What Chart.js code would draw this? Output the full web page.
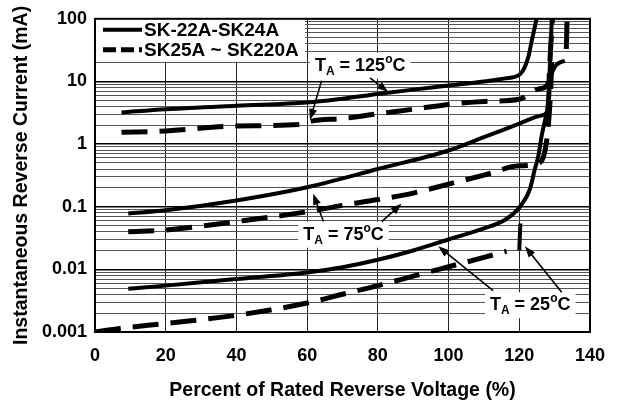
<!DOCTYPE html>
<html>
<head>
<meta charset="utf-8">
<script src="https://cdn.jsdelivr.net/npm/chart.js@4.4.1/dist/chart.umd.min.js"></script>
<style>
  html, body { margin: 0; padding: 0; background: #fff; }
  #wrap { width: 620px; height: 405px; }
</style>
</head>
<body>
<div id="wrap"><canvas id="chart"></canvas></div>
<script>
/* Reverse current vs. percent of rated reverse voltage (log scale) */

const FONT = '"Liberation Sans", Arial, sans-serif';

// ── Data ──────────────────────────────────────────────────────
// TA = 125°C
const s125X = [7.5, 20, 40, 60, 70, 80, 90, 100, 110, 116, 120.2, 122.5, 123.5, 124.9];
const s125Y = [3.2, 3.6, 4.1, 4.6, 5.3, 6.3, 7.4, 8.6, 10, 11.2, 13.0, 24, 44, 100];
const d125X = [7.5, 20, 40, 59, 61, 70, 80, 90, 100, 110, 120, 125.5, 128.3, 128.8, 129.4];
const d125Y = [1.54, 1.62, 1.95, 2.08, 2.3, 2.55, 3.05, 3.6, 4.3, 4.8, 5.2, 7.6, 9.5, 30, 100];

// TA = 75°C
const s75X = [9.4, 20, 40, 60, 80, 100, 110, 120, 126, 127.8, 128.4, 128.7, 132.9];
const s75Y = [0.078, 0.088, 0.126, 0.205, 0.40, 0.79, 1.29, 2.12, 2.85, 3.2, 5, 11, 21.4];
const d75X = [9.4, 20, 40, 60, 70, 80, 90, 100, 110, 120, 125.6, 127.8, 128.8, 129.3];
const d75Y = [0.040, 0.0425, 0.058, 0.083, 0.105, 0.13, 0.165, 0.23, 0.32, 0.45, 0.5, 1.2, 6, 30];
const d75TailX = [133.3, 133.5];
const d75TailY = [33, 90];

// TA = 25°C
const s25X = [9.4, 20, 40, 60, 70, 80, 90, 100, 110, 116, 120.2, 123, 124.4, 125.4, 126.3, 127.3, 128, 128.6, 129.2];
const s25Y = [0.0049, 0.0055, 0.0070, 0.0089, 0.0108, 0.0142, 0.020, 0.030, 0.045, 0.062, 0.10, 0.19, 0.40, 0.65, 1.33, 2.43, 4, 15, 100];
const d25X = [0, 7, 20, 40, 60, 70, 80, 90, 100, 110, 116.4];
const d25Y = [0.001, 0.00114, 0.00137, 0.00185, 0.0029, 0.0040, 0.0055, 0.0078, 0.0110, 0.0155, 0.0195];
const d25TailX = [120, 120.3];
const d25TailY = [0.02, 0.054];

// Axes
const xTicks = [0, 20, 40, 60, 80, 100, 120, 140];
const yLabelValues = [0.001, 0.01, 0.1, 1, 10, 100];
const yLabelText = ['0.001', '0.01', '0.1', '1', '10', '100'];

// Legend entries
const legendItems = [
  { text: 'SK-22A-SK24A', dash: [] },
  { text: 'SK25A ~ SK220A', dash: [13, 5] },
];

// Temperature callouts: label anchor (left, baseline) and arrows, in data units
const callouts = [
  { temp: '125', at: [62.2, 14.8], arrows: [[64.1, 10.3, 60.8, 2.43], [77.8, 11.4, 82.9, 6.8]] },
  { temp: '75',  at: [58.9, 0.0297], arrows: [[64.6, 0.058, 61.7, 0.161], [81.1, 0.058, 86.7, 0.112]] },
  { temp: '25',  at: [111.7, 0.00222], arrows: [[112.6, 0.00457, 97.1, 0.0233], [132, 0.0043, 121.6, 0.0233]] },
];

// ── Helpers ────────────────────────────────────────────────────

const pts = (xs, ys) => xs.map((x, i) => ({ x, y: ys[i] }));

// grid lines at 1..9 of each decade
const yGridValues = [];
yLabelValues.slice(0, -1).forEach(d => {
  for (let k = 1; k <= 9; k++) yGridValues.push(+(d * k).toPrecision(6));
});
yGridValues.push(100);

const labelIndex = v => yLabelValues.findIndex(l => Math.abs(Math.log10(l) - Math.log10(v)) < 1e-6);

const SOLID = { borderWidth: 4, borderDash: [] };
const DASHED = { borderWidth: 5, borderDash: [26, 12] };

function series(xs, ys, style) {
  return {
    data: pts(xs, ys),
    borderColor: '#000',
    backgroundColor: '#000',
    pointRadius: 0,
    cubicInterpolationMode: 'monotone',
    borderCapStyle: 'butt',
    ...style,
  };
}

function arrow(ctx, x1, y1, x2, y2) {
  const ang = Math.atan2(y2 - y1, x2 - x1);
  const len = 11, half = 4;
  ctx.beginPath();
  ctx.moveTo(x1, y1);
  ctx.lineTo(x2 - Math.cos(ang) * len * 0.8, y2 - Math.sin(ang) * len * 0.8);
  ctx.lineWidth = 1.6;
  ctx.setLineDash([]);
  ctx.stroke();
  ctx.beginPath();
  ctx.moveTo(x2, y2);
  ctx.lineTo(x2 - Math.cos(ang) * len - Math.sin(ang) * half, y2 - Math.sin(ang) * len + Math.cos(ang) * half);
  ctx.lineTo(x2 - Math.cos(ang) * len + Math.sin(ang) * half, y2 - Math.sin(ang) * len - Math.cos(ang) * half);
  ctx.closePath();
  ctx.fill();
}

function tempLabel(ctx, x, y, temp) {
  const big = `bold 18px ${FONT}`, small = `bold 12px ${FONT}`;
  const parts = [
    { t: 'T', f: big, dy: 0 },
    { t: 'A', f: small, dy: 4 },
    { t: ' = ' + temp, f: big, dy: 0 },
    { t: 'o', f: small, dy: -8 },
    { t: 'C', f: big, dy: 0 },
  ];
  let w = 0;
  parts.forEach(p => { ctx.font = p.f; p.w = ctx.measureText(p.t).width; w += p.w; });
  ctx.fillStyle = '#fff';
  ctx.fillRect(x - 5, y - 18, w + 10, 26);
  ctx.fillStyle = '#000';
  ctx.textBaseline = 'alphabetic';
  ctx.textAlign = 'left';
  let cx = x;
  parts.forEach(p => { ctx.font = p.f; ctx.fillText(p.t, cx, y + p.dy); cx += p.w; });
}

// ── Overlay: legend box, callouts, frame ───────────────────────

const overlay = {
  id: 'overlay',
  afterDatasetsDraw(chart) {
    const { ctx, chartArea: a, scales: { x, y } } = chart;
    ctx.save();

    // legend
    ctx.fillStyle = '#fff';
    ctx.fillRect(a.left, a.top, 210, 43);
    legendItems.forEach((it, i) => {
      const ly = a.top + 11 + i * 20;
      ctx.strokeStyle = '#000';
      ctx.lineWidth = i === 0 ? 4 : 5;
      ctx.setLineDash(it.dash);
      ctx.beginPath();
      ctx.moveTo(a.left + 8, ly);
      ctx.lineTo(a.left + 47, ly);
      ctx.stroke();
      ctx.setLineDash([]);
      ctx.fillStyle = '#000';
      ctx.font = `bold 19px ${FONT}`;
      ctx.textBaseline = 'middle';
      ctx.textAlign = 'left';
      ctx.fillText(it.text, a.left + 49, ly + 1);
    });

    // callouts
    callouts.forEach(c => {
      tempLabel(ctx, x.getPixelForValue(c.at[0]), y.getPixelForValue(c.at[1]), c.temp);
      ctx.strokeStyle = '#000';
      ctx.fillStyle = '#000';
      c.arrows.forEach(([x1, y1, x2, y2]) => arrow(ctx,
        x.getPixelForValue(x1), y.getPixelForValue(y1),
        x.getPixelForValue(x2), y.getPixelForValue(y2)));
    });

    // frame
    ctx.strokeStyle = '#000';
    ctx.lineWidth = 2;
    ctx.setLineDash([]);
    ctx.strokeRect(a.left, a.top, a.right - a.left, a.bottom - a.top);
    ctx.restore();
  },
};

// ── Chart ──────────────────────────────────────────────────────

const tickFont = { family: FONT, size: 18, weight: 'bold' };
const titleFont = { family: FONT, size: 19.5, weight: 'bold' };

new Chart(document.getElementById('chart'), {
  type: 'line',
  data: {
    datasets: [
      series(s125X, s125Y, SOLID),
      series(d125X, d125Y, DASHED),
      series(s75X, s75Y, SOLID),
      series(d75X, d75Y, DASHED),
      series(d75TailX, d75TailY, { borderWidth: 5, borderDash: [] }),
      series(s25X, s25Y, SOLID),
      series(d25X, d25Y, DASHED),
      series(d25TailX, d25TailY, { borderWidth: 4, borderDash: [] }),
    ],
  },
  options: {
    responsive: true,
    maintainAspectRatio: false,
    animation: false,
    layout: { padding: { top: 14, right: 30, left: 0, bottom: 0 } },
    plugins: { legend: { display: false }, tooltip: { enabled: false } },
    scales: {
      x: {
        type: 'linear',
        min: 0,
        max: 140,
        afterBuildTicks: s => { s.ticks = xTicks.map(v => ({ value: v })); },
        afterFit: s => { s.height = 73; },
        ticks: { color: '#000', font: tickFont, padding: 13, autoSkip: false },
        grid: { color: '#222', lineWidth: 1, drawTicks: false },
        border: { color: '#000', width: 2 },
        title: {
          display: true, text: 'Percent of Rated Reverse Voltage (%)',
          color: '#000', font: titleFont, padding: { top: 0, bottom: 3 },
        },
      },
      y: {
        type: 'logarithmic',
        min: 0.001,
        max: 100,
        afterBuildTicks: s => { s.ticks = yGridValues.map(v => ({ value: v })); },
        afterFit: s => { s.width = 95; },
        ticks: {
          color: '#000', font: tickFont, padding: 8, autoSkip: false,
          callback: v => { const i = labelIndex(v); return i >= 0 ? yLabelText[i] : ''; },
        },
        grid: {
          drawTicks: false,
          color: c => (c.tick && labelIndex(c.tick.value) >= 0 ? '#000' : '#555'),
          lineWidth: c => (c.tick && labelIndex(c.tick.value) >= 0 ? 1.5 : 1),
        },
        border: { color: '#000', width: 2 },
        title: {
          display: true, text: 'Instantaneous Reverse Current (mA)',
          color: '#000', font: titleFont, padding: { top: 10, bottom: 0 },
        },
      },
    },
  },
  plugins: [overlay],
});
</script>
</body>
</html>
